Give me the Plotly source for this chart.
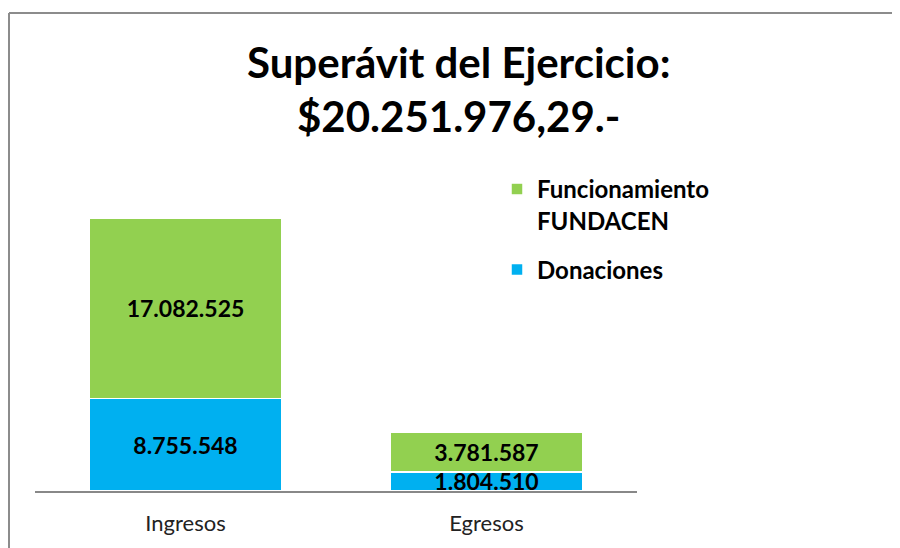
import plotly.graph_objects as go

categories = ["Ingresos", "Egresos"]
donaciones = [8755548, 1804510]
funcionamiento = [17082525, 3781587]
series_names = ["Donaciones", "Funcionamiento<br>FUNDACEN"]
title_lines = ["Superávit del Ejercicio:", "$20.251.976,29.-"]

W, H = 900, 548
OFF = 8  # page body margin
L, R, T, B = 27, 271, 166, 65
PW, PH = W - L - R, H - T - B


def px_x(x):
    # screen pixel -> paper
    return (x - OFF - L) / PW


def px_y(y):
    return (H - B - (y - OFF)) / PH


FONT = "Lato, Open Sans, sans-serif"
GREEN = "#92D050"
BLUE = "#00B0F0"

fig = go.Figure()
fig.add_trace(go.Bar(
    x=categories, y=donaciones, name="<b>" + series_names[0] + "</b>",
    legendgroup="don", legendrank=2,
    marker=dict(color=BLUE, line=dict(color="white", width=1.5)),
    texttemplate="<b>%{y:,.0f}</b>", textposition="inside",
    insidetextanchor="middle", constraintext="none",
    textfont=dict(family=FONT, size=23, color="black"),
))
fig.add_trace(go.Bar(
    x=categories, y=funcionamiento, name="<b>" + series_names[1] + "</b>",
    legendgroup="fun", legendrank=1,
    marker=dict(color=GREEN, line=dict(color="white", width=1.5)),
    texttemplate="<b>%{y:,.0f}</b>", textposition="inside",
    insidetextanchor="middle", constraintext="none",
    textfont=dict(family=FONT, size=23, color="black"),
))

annotations = []
for txt, yc in zip(title_lines, [62, 116]):
    annotations.append(dict(
        text="<b>" + txt + "</b>", x=px_x(458), y=px_y(yc),
        xref="paper", yref="paper", xanchor="center", yanchor="middle",
        showarrow=False, font=dict(family=FONT, size=42, color="black"),
    ))

fig.update_layout(
    width=W, height=H,
    margin=dict(l=L, r=R, t=T, b=B, pad=0),
    paper_bgcolor="white", plot_bgcolor="white",
    barmode="stack", bargap=0.36,
    separators=",.",
    font=dict(family=FONT, color="black"),
    annotations=annotations,
    showlegend=True,
    legend=dict(
        x=px_x(497), y=px_y(167), xanchor="left", yanchor="top",
        traceorder="grouped", valign="top", tracegroupgap=15,
        font=dict(family=FONT, size=24, color="black"),
        bgcolor="rgba(0,0,0,0)",
    ),
    xaxis=dict(
        showline=True, linecolor="#888888", linewidth=2,
        showgrid=False, ticks="", ticklabelstandoff=12,
        tickfont=dict(family=FONT, size=22, color="#222222"),
        fixedrange=True,
    ),
    yaxis=dict(
        range=[0, 30000000], visible=False, showgrid=False,
        zeroline=False, fixedrange=True,
    ),
    shapes=[
        dict(type="line", xref="paper", yref="paper",
             x0=px_x(9), x1=px_x(9), y0=px_y(13), y1=px_y(600),
             line=dict(color="#8c8c8c", width=2)),
        dict(type="line", xref="paper", yref="paper",
             x0=px_x(9), x1=px_x(950), y0=px_y(13), y1=px_y(13),
             line=dict(color="#8c8c8c", width=2)),
    ],
)

fig.write_html("out.html")
